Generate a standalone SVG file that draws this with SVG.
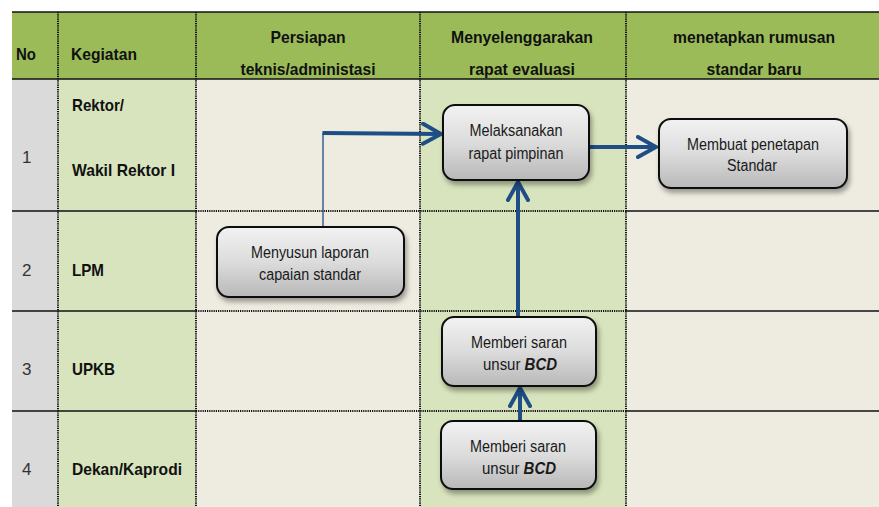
<svg xmlns="http://www.w3.org/2000/svg" width="879" height="507" viewBox="0 0 879 507">
<defs>
<linearGradient id="ng" x1="0" y1="0" x2="0" y2="1">
<stop offset="0" stop-color="#F2F2F2"/>
<stop offset="0.5" stop-color="#DCDCDC"/>
<stop offset="1" stop-color="#B8B8B8"/>
</linearGradient>
<filter id="sh" x="-10%" y="-10%" width="130%" height="140%">
<feDropShadow dx="2" dy="4" stdDeviation="2.5" flood-color="#000" flood-opacity="0.35"/>
</filter>
<marker id="ah" markerUnits="userSpaceOnUse" viewBox="0 0 24 24" refX="20" refY="12" markerWidth="24" markerHeight="24" orient="auto">
<path d="M2 2 L20 12 L2 22" fill="none" stroke="#1F4E85" stroke-width="4" stroke-linecap="round" stroke-linejoin="miter"/>
</marker>
<style>
.hd{font-family:"Liberation Sans Narrow","Liberation Sans",Arial,sans-serif;font-weight:bold;font-size:17px;fill:#111}
.rl{font-family:"Liberation Sans Narrow","Liberation Sans",Arial,sans-serif;font-weight:bold;font-size:17px;fill:#111}
.num{font-family:"Liberation Sans Narrow","Liberation Sans",Arial,sans-serif;font-size:17px;fill:#333}
.nt{font-family:"Liberation Sans Narrow","Liberation Sans",Arial,sans-serif;font-size:16px;fill:#1a1a1a;text-anchor:middle}
.box{fill:url(#ng);stroke:#111;stroke-width:2;filter:url(#sh)}
.sol{stroke:#111;stroke-width:1.5;fill:none}
.dot{stroke:#111;stroke-width:2;stroke-dasharray:1.2 1;fill:none}
.conn{stroke:#1F4E85;fill:none}
</style>
</defs>
<rect width="879" height="507" fill="#fff"/>
<g id="grid">
<rect x="12" y="12" width="867" height="67" fill="#9BBB59"/>
<rect x="12" y="79" width="46" height="428" fill="#DADADA"/>
<rect x="58" y="79" width="138" height="428" fill="#D7E4BD"/>
<rect x="196" y="79" width="224" height="428" fill="#EEECE1"/>
<rect x="420" y="79" width="206" height="428" fill="#D7E4BD"/>
<rect x="626" y="79" width="253" height="428" fill="#EEECE1"/>
<line x1="12" y1="12" x2="879" y2="12" class="sol"/>
<line x1="12" y1="79" x2="879" y2="79" class="sol"/>
<line x1="12" y1="211" x2="196" y2="211" class="sol"/>
<line x1="12" y1="311" x2="196" y2="311" class="sol"/>
<line x1="12" y1="411" x2="196" y2="411" class="sol" stroke-width="2.2"/>
<line x1="626" y1="211" x2="879" y2="211" class="sol"/>
<line x1="626" y1="311" x2="879" y2="311" class="sol"/>
<line x1="626" y1="411" x2="879" y2="411" class="sol" stroke-width="2.2"/>
<line x1="196" y1="211" x2="626" y2="211" class="dot" stroke-width="1.5"/>
<line x1="196" y1="311" x2="626" y2="311" class="dot" stroke-width="1.5"/>
<line x1="196" y1="411" x2="626" y2="411" class="dot" stroke-width="1.5"/>
<line x1="58" y1="12" x2="58" y2="507" class="dot"/>
<line x1="196" y1="12" x2="196" y2="507" class="dot"/>
<line x1="420" y1="12" x2="420" y2="507" class="dot"/>
<line x1="626" y1="12" x2="626" y2="507" class="dot"/>
</g>
<g id="header">
<text class="hd" x="16" y="60" textLength="20" lengthAdjust="spacingAndGlyphs">No</text>
<text class="hd" x="71" y="60" textLength="66" lengthAdjust="spacingAndGlyphs">Kegiatan</text>
<text class="hd" x="308" y="43" text-anchor="middle" textLength="75" lengthAdjust="spacingAndGlyphs">Persiapan</text>
<text class="hd" x="308" y="75" text-anchor="middle" textLength="135" lengthAdjust="spacingAndGlyphs">teknis/administasi</text>
<text class="hd" x="522" y="43" text-anchor="middle" textLength="142" lengthAdjust="spacingAndGlyphs">Menyelenggarakan</text>
<text class="hd" x="522" y="75" text-anchor="middle" textLength="106" lengthAdjust="spacingAndGlyphs">rapat evaluasi</text>
<text class="hd" x="754" y="43" text-anchor="middle" textLength="162" lengthAdjust="spacingAndGlyphs">menetapkan rumusan</text>
<text class="hd" x="754" y="75" text-anchor="middle" textLength="95" lengthAdjust="spacingAndGlyphs">standar baru</text>
</g>
<g id="rows">
<text class="num" x="22" y="163">1</text>
<text class="rl" x="72" y="111" textLength="52" lengthAdjust="spacingAndGlyphs">Rektor/</text>
<text class="rl" x="72" y="176" textLength="103" lengthAdjust="spacingAndGlyphs">Wakil Rektor I</text>
<text class="num" x="22" y="276">2</text>
<text class="rl" x="72" y="276" textLength="32" lengthAdjust="spacingAndGlyphs">LPM</text>
<text class="num" x="22" y="375">3</text>
<text class="rl" x="72" y="375" textLength="43" lengthAdjust="spacingAndGlyphs">UPKB</text>
<text class="num" x="22" y="475">4</text>
<text class="rl" x="72" y="475" textLength="110" lengthAdjust="spacingAndGlyphs">Dekan/Kaprodi</text>
</g>
<g id="connectors">
<polyline class="conn" points="323,227 323,133" stroke-width="1.3"/>
<polyline class="conn" points="322.5,133 441,134" stroke-width="4" marker-end="url(#ah)"/>
<line class="conn" x1="590" y1="147" x2="656" y2="147" stroke-width="4" marker-end="url(#ah)"/>
<line class="conn" x1="518" y1="316" x2="518" y2="182" stroke-width="4" marker-end="url(#ah)"/>
<line class="conn" x1="520" y1="420" x2="520" y2="388" stroke-width="4" marker-end="url(#ah)"/>
</g>
<g id="n-melaksanakan">
<rect class="box" x="443" y="105" width="146" height="75" rx="12"/>
<text class="nt" x="516" y="136" textLength="93" lengthAdjust="spacingAndGlyphs">Melaksanakan</text>
<text class="nt" x="516" y="159" textLength="95" lengthAdjust="spacingAndGlyphs">rapat pimpinan</text>
</g>
<g id="n-membuat">
<rect class="box" x="659" y="119" width="188" height="69" rx="12"/>
<text class="nt" x="753" y="150" textLength="132" lengthAdjust="spacingAndGlyphs">Membuat penetapan</text>
<text class="nt" x="752" y="171" textLength="50" lengthAdjust="spacingAndGlyphs">Standar</text>
</g>
<g id="n-menyusun">
<rect class="box" x="217" y="227" width="187" height="70" rx="12"/>
<text class="nt" x="310" y="258" textLength="118" lengthAdjust="spacingAndGlyphs">Menyusun laporan</text>
<text class="nt" x="310" y="280" textLength="102" lengthAdjust="spacingAndGlyphs">capaian standar</text>
</g>
<g id="n-memberi1">
<rect class="box" x="442" y="317" width="154" height="69" rx="12"/>
<text class="nt" x="519" y="348" textLength="96" lengthAdjust="spacingAndGlyphs">Memberi saran</text>
<text class="nt" x="520" y="370" textLength="74" lengthAdjust="spacingAndGlyphs">unsur <tspan font-weight="bold" font-style="italic">BCD</tspan></text>
</g>
<g id="n-memberi2">
<rect class="box" x="441" y="421" width="155" height="68" rx="12"/>
<text class="nt" x="518" y="452" textLength="96" lengthAdjust="spacingAndGlyphs">Memberi saran</text>
<text class="nt" x="519" y="474" textLength="74" lengthAdjust="spacingAndGlyphs">unsur <tspan font-weight="bold" font-style="italic">BCD</tspan></text>
</g>
</svg>
